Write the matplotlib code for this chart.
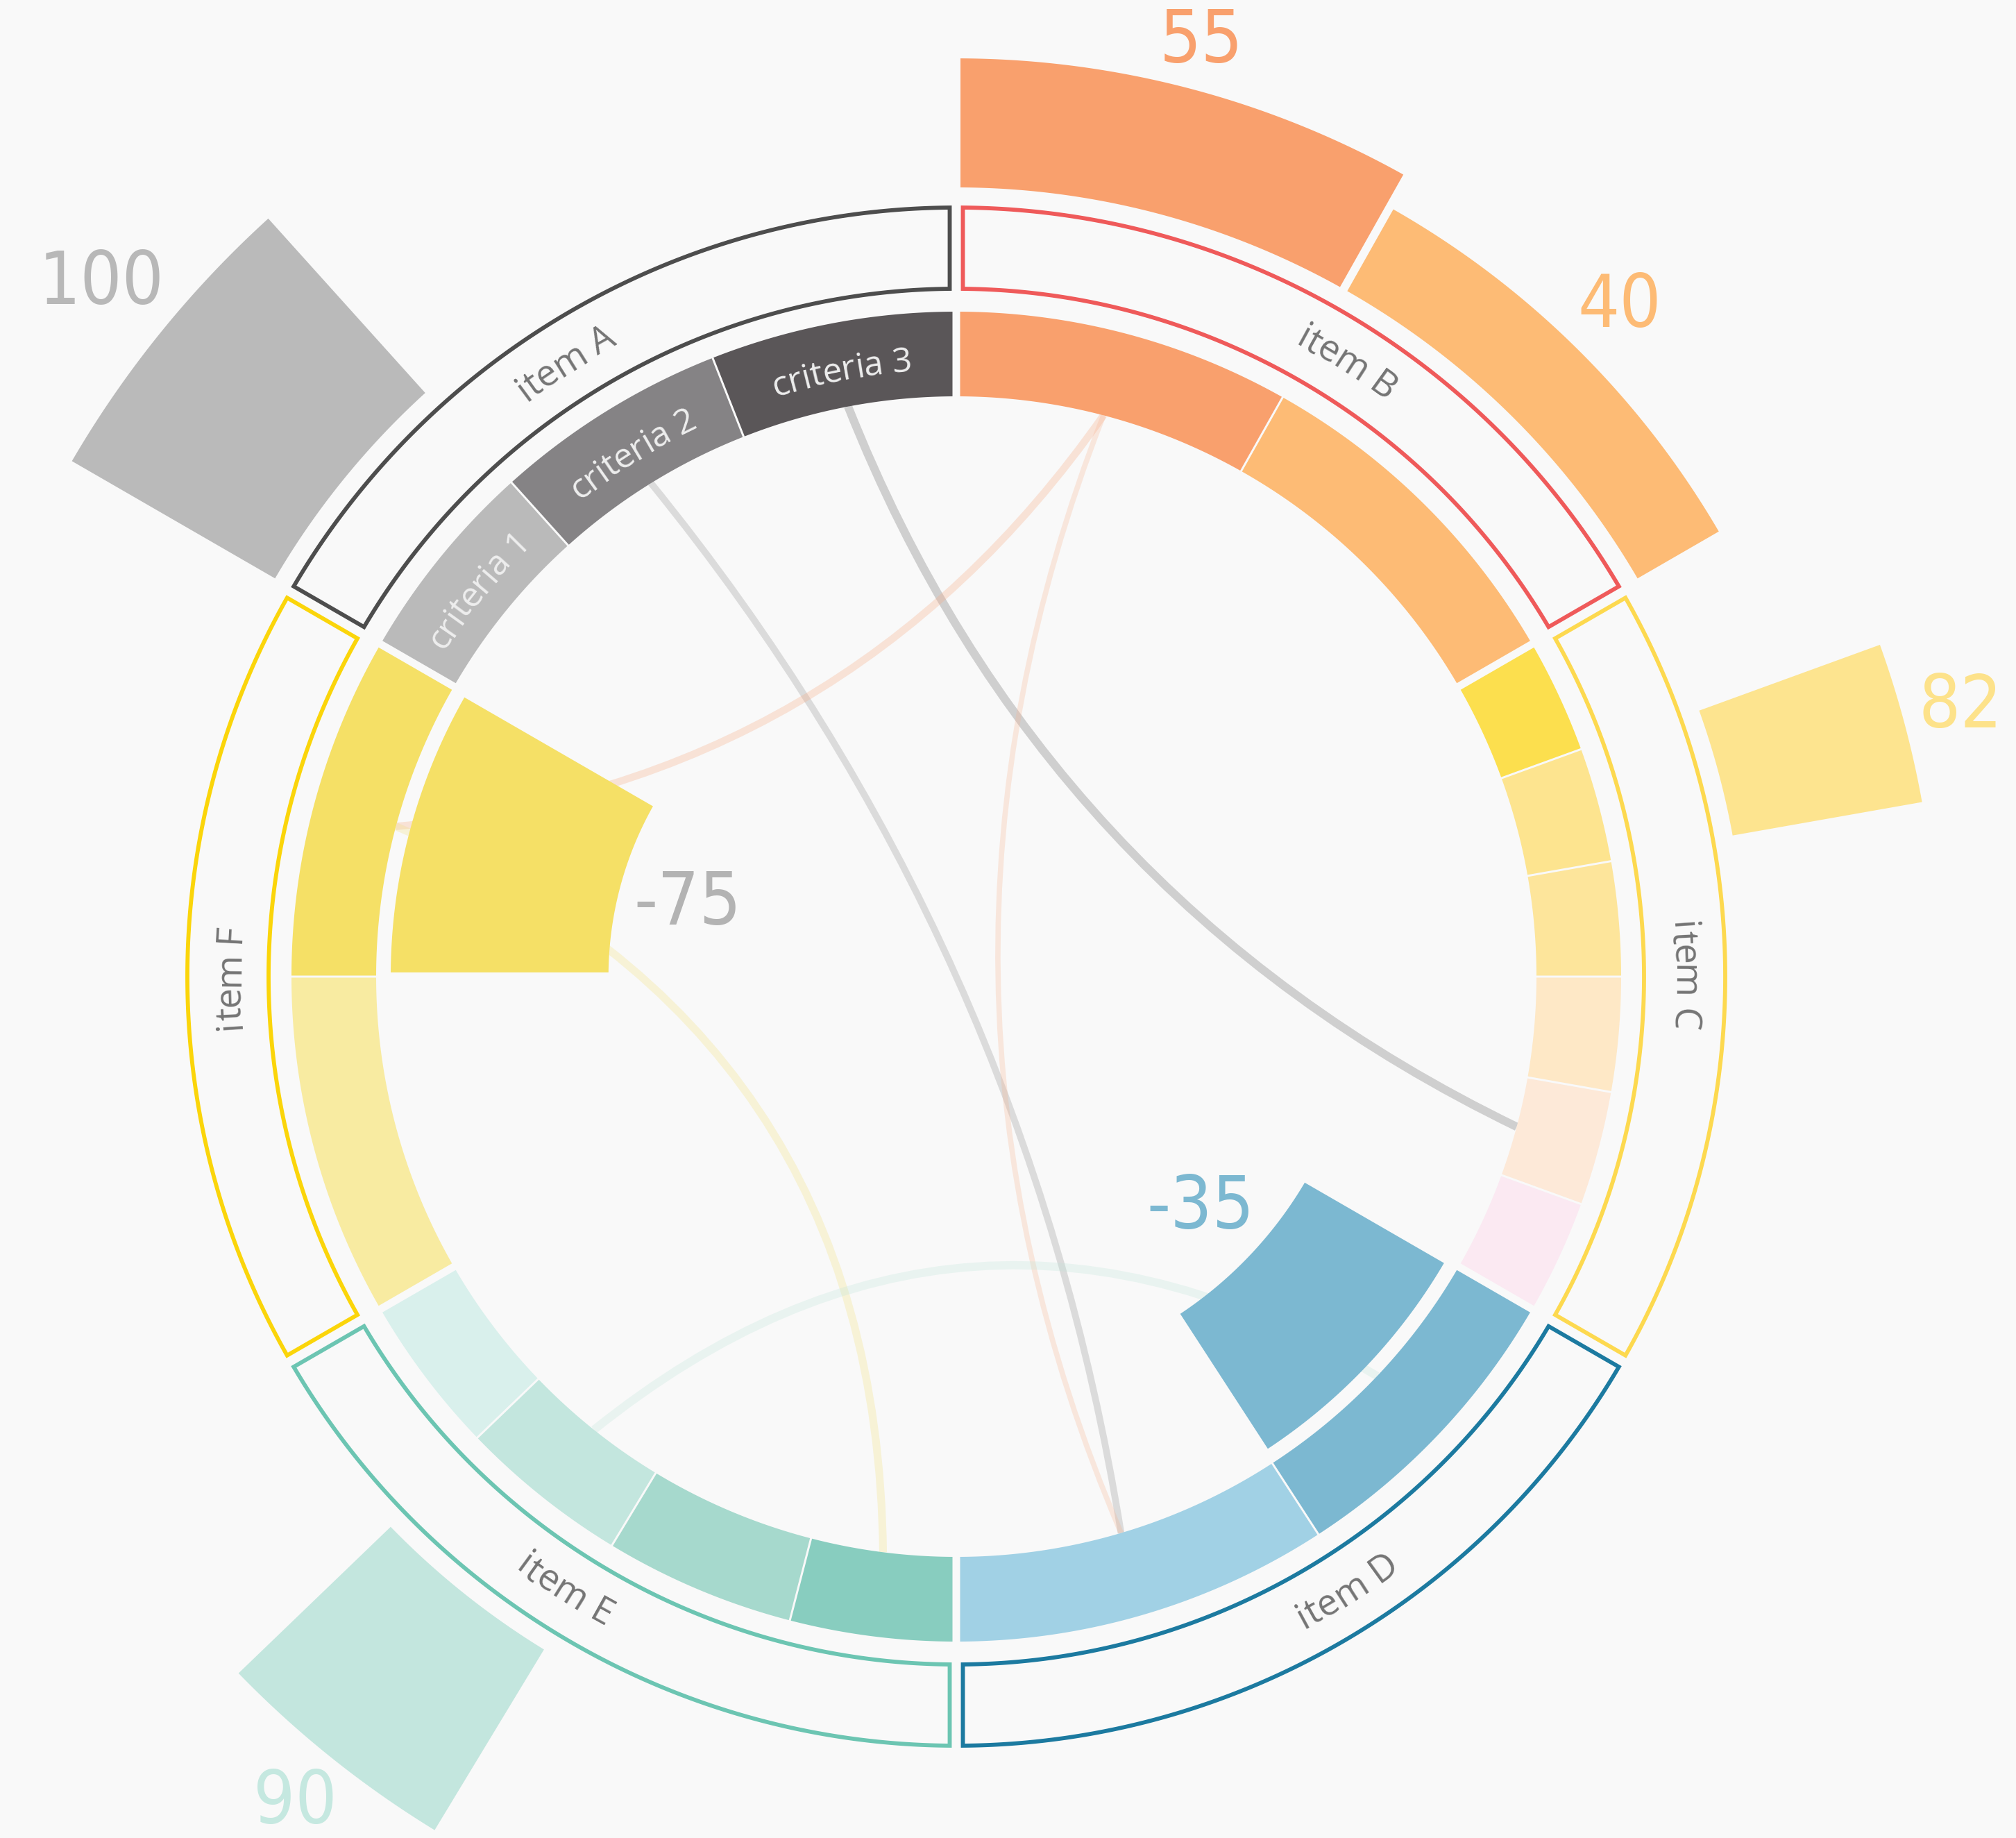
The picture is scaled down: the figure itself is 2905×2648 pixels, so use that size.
import os
import numpy as np
import matplotlib.pyplot as plt
from matplotlib import font_manager
from matplotlib.patches import Polygon, PathPatch
from matplotlib.path import Path
from matplotlib.textpath import TextToPath
from matplotlib.font_manager import FontProperties

# ---- data ----
items = ['item A', 'item B', 'item C', 'item D', 'item E', 'item F']
# relative width of each criterion inside its item
criteria_weights = [
    [18, 20.5, 21.5],
    [29.4, 30.6],
    [10, 10, 10, 10, 10, 10],
    [27, 33],
    [14.5, 16.7, 14.9, 13.9],
    [30, 30],
]
criteria_labels_a = ['criteria 1', 'criteria 2', 'criteria 3']

# value bars: (item, criterion) -> value
bar_item = [0, 1, 1, 2, 3, 4, 5]
bar_crit = [0, 0, 1, 1, 0, 2, 1]
bar_value = [100, 55, 40, 82, -35, 90, -75]

# links between criteria
chord_from = [(0, 2), (0, 1), (1, 0), (1, 0), (5, 1), (4, 2)]
chord_to = [(2, 4), (3, 1), (5, 1), (3, 1), (4, 0), (3, 0)]

# ---- styles ----
BG = '#f9f9f9'
item_colors = ['#4d4d4d', '#ef5a5a', '#fdd94f', '#1c7aa0', '#6cc5b2', '#fbd50a']
criteria_colors = [
    ['#bababa', '#858385', '#5a5658'],
    ['#f9a06d', '#fdbb75'],
    ['#fcdf4e', '#fde48f', '#fde59b', '#fee8c6', '#fde9d8', '#fbe9f2'],
    ['#7cb8d1', '#a1d1e5'],
    ['#88cdbf', '#a6d9cd', '#c3e6de', '#d9f0ec'],
    ['#f8eba1', '#f5e066'],
]
value_colors = ['#b8b8b8', '#f9a06d', '#fdbb75', '#fde28a', '#7cb8d1', '#c5e8e0', '#b3b3b3']
chord_colors = ['#9c9c9c', '#b0b0b0', '#f8ad88', '#f8b491', '#f2e07a', '#bfe6da']
chord_alpha = [0.45, 0.4, 0.3, 0.27, 0.27, 0.27]
chord_lw = [8.6, 7, 7.6, 5.5, 8, 8.6]
chord_bend = [0.38, -1.0, 0.54, -0.465, 0.25, 0.36]

LABEL_FONT = ['Open Sans', 'DejaVu Sans']


def pick_narrow_font():
    # look for a condensed / narrow face among installed fonts
    prefs = ['liberation sans narrow', 'noto sans', 'dejavu sans', 'open sans', 'roboto']
    best = None
    for f in font_manager.fontManager.ttflist:
        key = (f.name + ' ' + os.path.basename(f.fname)).lower()
        if not ('narrow' in key or 'condensed' in key):
            continue
        if 'italic' in key or 'oblique' in key or 'bold' in key or 'black' in key:
            continue
        if 'extra' in key or 'ultra' in key:
            continue
        rank = next((k for k, p in enumerate(prefs) if p in key), len(prefs))
        w = f.weight if isinstance(f.weight, int) else 400
        score = (rank, abs(w - 350))
        if best is None or score < best[0]:
            best = (score, f.fname)
    if best is None:
        return FontProperties(family='DejaVu Sans'), False
    return FontProperties(fname=best[1]), True


VALUE_PROP, NARROW_OK = pick_narrow_font()
VALUE_SIZE = 76 if NARROW_OK else 62

# geometry in pixels
W, H = 2905, 2648
CX, CY = 1378, H - 1407
R_ITEM_IN, R_ITEM_OUT = 991, 1108
R_CRIT_IN, R_CRIT_OUT = 836, 958
R_POS_BASE = 1137
R_NEG_BASE = 815


def outward_len(v):
    return 3.38 * v


def inward_len(v):
    return 160 + 2.05 * abs(v)


def polar(theta, r):
    t = np.radians(theta)
    return CX + r * np.sin(t), CY + r * np.cos(t)


def sector(t1, t2, r0, r1, p1, p2, n=240):
    a_out = np.linspace(t1 + np.degrees(np.arcsin(p1 / r1)), t2 - np.degrees(np.arcsin(p2 / r1)), n)
    a_in = np.linspace(t2 - np.degrees(np.arcsin(p2 / r0)), t1 + np.degrees(np.arcsin(p1 / r0)), n)
    xo, yo = polar(a_out, r1)
    xi, yi = polar(a_in, r0)
    return np.column_stack([np.concatenate([xo, xi]), np.concatenate([yo, yi])])


fig = plt.figure(figsize=(W / 100, H / 100), dpi=100, facecolor=BG)
ax = fig.add_axes([0, 0, 1, 1])
ax.set_xlim(0, W)
ax.set_ylim(0, H)
ax.set_facecolor(BG)
ax.axis('off')

ttp = TextToPath()
PX = 100 / 72.0


def curved_text(s, theta_c, r_mid, size, color, flip=False):
    prop = FontProperties(family=LABEL_FONT, size=size)
    ref = ttp.get_text_width_height_descent('I', prop, ismath=False)[0]
    lefts = np.array([ttp.get_text_width_height_descent(s[:i] + 'I', prop, ismath=False)[0] - ref
                      for i in range(len(s) + 1)]) * PX
    total = lefts[-1]
    em = size * PX
    for i, ch in enumerate(s):
        if ch == ' ':
            continue
        pos = (lefts[i] + lefts[i + 1]) / 2 - total / 2
        if not flip:
            th = theta_c + np.degrees(pos / r_mid)
            rb = r_mid - 0.3 * em
            rot = -th
        else:
            th = theta_c - np.degrees(pos / r_mid)
            rb = r_mid + 0.3 * em
            rot = 180 - th
        x, y = polar(th, rb)
        ax.text(x, y, ch, rotation=rot, rotation_mode='anchor', ha='center', va='baseline',
                fontsize=size, color=color, family=LABEL_FONT, zorder=6)


# criteria angles
span = 360 / len(items)
seg = {}
for i, w in enumerate(criteria_weights):
    start = -span + i * span
    edges = start + span * np.concatenate([[0], np.cumsum(w)]) / np.sum(w)
    for j in range(len(w)):
        seg[(i, j)] = (edges[j], edges[j + 1])

# chords
for k, (a, b) in enumerate(zip(chord_from, chord_to)):
    p0 = np.array(polar(np.mean(seg[a]), R_CRIT_IN))
    p2 = np.array(polar(np.mean(seg[b]), R_CRIT_IN))
    c = np.array([CX, CY])
    ctrl = c + chord_bend[k] * ((p0 + p2) / 2 - c)
    path = Path([p0, ctrl, p2], [Path.MOVETO, Path.CURVE3, Path.CURVE3])
    ax.add_patch(PathPatch(path, fill=False, ec=chord_colors[k], lw=chord_lw[k],
                           alpha=chord_alpha[k], capstyle='butt', zorder=1))

# item rings
for i, name in enumerate(items):
    start = -span + i * span
    ax.add_patch(Polygon(sector(start, start + span, R_ITEM_IN, R_ITEM_OUT, 9.5, 9.5), closed=True,
                         fill=False, ec=item_colors[i], lw=4.2, joinstyle='miter', zorder=3))
    mid = start + span / 2
    # labels sit slightly away from the vertical axis
    shift = 2.5 * np.sign(np.round(np.sin(np.radians(mid)) * np.cos(np.radians(mid)), 6))
    curved_text(name, mid + shift, (R_ITEM_IN + R_ITEM_OUT) / 2, 38, '#747474', flip=90 < mid < 270)

# criteria segments
for (i, j), (t1, t2) in seg.items():
    n = len(criteria_weights[i])
    p1 = 5.5 if j == 0 else 1.5
    p2 = 5.5 if j == n - 1 else 1.5
    ax.add_patch(Polygon(sector(t1, t2, R_CRIT_IN, R_CRIT_OUT, p1, p2), closed=True,
                         fc=criteria_colors[i][j], ec='none', zorder=3))

for j, lab in enumerate(criteria_labels_a):
    curved_text(lab, np.mean(seg[(0, j)]), 890, 36, '#eeeeee')

# value bars
vprop = VALUE_PROP.copy()
vprop.set_size(VALUE_SIZE)
for k, v in enumerate(bar_value):
    i, j = bar_item[k], bar_crit[k]
    t1, t2 = seg[(i, j)]
    mid = (t1 + t2) / 2
    tw, th_, _ = ttp.get_text_width_height_descent(str(v), vprop, ismath=False)
    tw, th_ = tw * PX, th_ * PX
    # keep the label clear of the bar end
    gap = abs(np.sin(np.radians(mid))) * tw / 2 + abs(np.cos(np.radians(mid))) * th_ / 2 + 15
    gap = max(gap, 55)
    if v > 0:
        r0, r1 = R_POS_BASE, R_POS_BASE + outward_len(v)
        rl = r1 + gap
    else:
        r0, r1 = R_NEG_BASE - inward_len(v), R_NEG_BASE
        rl = r0 - gap
    ax.add_patch(Polygon(sector(t1, t2, r0, r1, 6, 6), closed=True,
                         fc=criteria_colors[i][j], ec='none', zorder=4))
    x, y = polar(mid, rl)
    ax.text(x, y, str(v), ha='center', va='center', fontproperties=vprop,
            color=value_colors[k], zorder=6)

fig.savefig('out.png', dpi=100, facecolor=BG)
